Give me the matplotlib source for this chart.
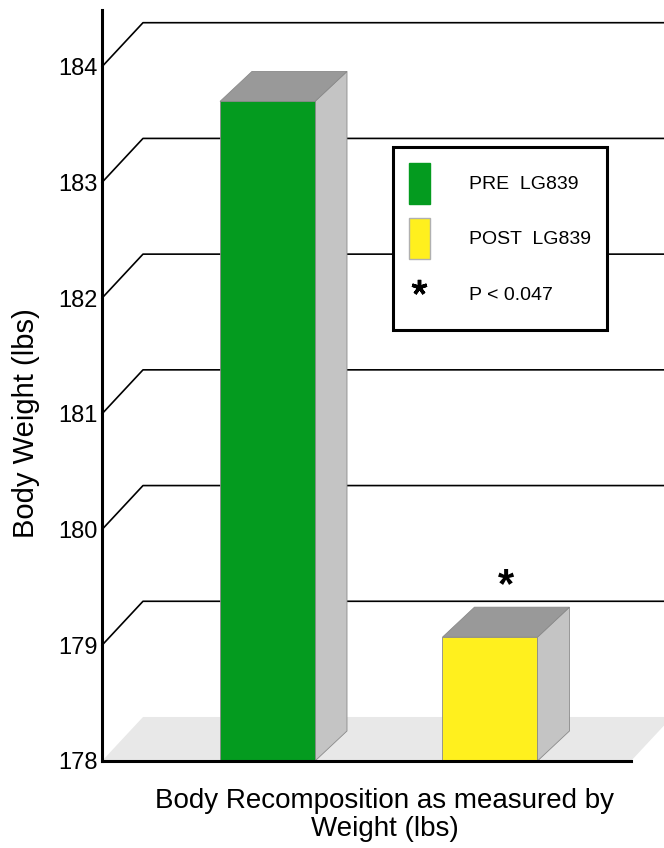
import numpy as np
import matplotlib.pyplot as plt
from matplotlib.patches import Polygon, Patch
from matplotlib.lines import Line2D
from matplotlib.transforms import IdentityTransform

plt.rcParams['font.family'] = ['Liberation Sans', 'DejaVu Sans']

# dados
groups = ['PRE  LG839', 'POST  LG839']
weights = [183.7, 179.07]
bar_colors = ['#049b1f', '#fff01e']
yticks = [178, 179, 180, 181, 182, 183, 184]
sig_label = 'P < 0.047'

# pseudo-3D offsets in pixels (back wall and bar depth)
wall = (41, 44)
depth = (32, 30)
bar_w = 0.427

fig = plt.figure(figsize=(6.64, 8.48), dpi=100)
ax = fig.add_axes([0.1536, 0.1026, 0.7967, 0.8856])
ax.set_xlim(-0.744, 1.634)
ax.set_ylim(178, 184.49)
xmin, xmax = ax.get_xlim()
base = yticks[0]


def proj(x, y, off=(0, 0)):
    px, py = ax.transData.transform((x, y))
    return (px + off[0], py + off[1])


def poly(pts, **kw):
    p = Polygon(pts, closed=True, transform=IdentityTransform(), clip_on=False, **kw)
    ax.add_artist(p)


# floor
poly([proj(xmin, base), proj(xmax, base), proj(xmax, base, wall), proj(xmin, base, wall)],
     facecolor='#e8e8e8', edgecolor='none', zorder=0.5)

# grid: left wall diagonal + back wall line
for v in yticks[1:]:
    pts = np.array([proj(xmin, v), proj(xmin, v, wall), proj(xmax, v, wall)])
    ln = Line2D(pts[:, 0], pts[:, 1], color='black', lw=1.2,
                transform=IdentityTransform(), clip_on=False, zorder=1)
    ax.add_artist(ln)

# bars
xs = np.arange(len(weights))
ax.bar(xs, np.array(weights) - base, bottom=base, width=bar_w, color=bar_colors,
       edgecolor='#8a8a8a', linewidth=0.6, zorder=3)
for x, v in zip(xs, weights):
    l, r = x - bar_w / 2, x + bar_w / 2
    poly([proj(r, base), proj(r, v), proj(r, v, depth), proj(r, base, depth)],
         facecolor='#c4c4c4', edgecolor='#8a8a8a', lw=0.6, zorder=2)
    poly([proj(l, v), proj(r, v), proj(r, v, depth), proj(l, v, depth)],
         facecolor='#999999', edgecolor='#8a8a8a', lw=0.6, zorder=2)

# significance mark
ax.annotate('*', xy=(xs[1], weights[1]), xytext=(16, 51), textcoords='offset pixels',
            ha='center', va='center', fontsize=30, fontweight='bold', annotation_clip=False)

# axes
for s in ['top', 'right']:
    ax.spines[s].set_visible(False)
for s in ['left', 'bottom']:
    ax.spines[s].set_linewidth(2.2)
    ax.spines[s].set_zorder(4)
ax.set_xticks([])
ax.set_yticks(yticks)
ax.tick_params(axis='y', length=0, pad=3, labelsize=17)

ax.set_ylabel('Body Weight (lbs)', fontsize=21)
ax.yaxis.set_label_coords(-0.117, 0.45)
ax.set_xlabel('Body Recomposition as measured by\nWeight (lbs)', fontsize=20, linespacing=1.12)
ax.xaxis.set_label_coords(0.534, -0.036)

# legend
handles = [Patch(facecolor=bar_colors[0], edgecolor=bar_colors[0]),
           Patch(facecolor=bar_colors[1], edgecolor='#b0b0b0'),
           Line2D([], [], ls='none', marker=(5, 2, 0), color='black', markersize=11, mew=2.5)]
leg = ax.legend(handles, groups + [sig_label], loc='upper left', bbox_to_anchor=(0.550, 0.8176),
                borderaxespad=0, fontsize=14, fancybox=False, edgecolor='black', framealpha=1,
                handlelength=1.13, handleheight=2.9, handletextpad=2.0, labelspacing=0.72,
                borderpad=0.8)
leg.get_frame().set_linewidth(2.2)
leg.set_zorder(6)

fig.savefig('out.png', dpi=100)
